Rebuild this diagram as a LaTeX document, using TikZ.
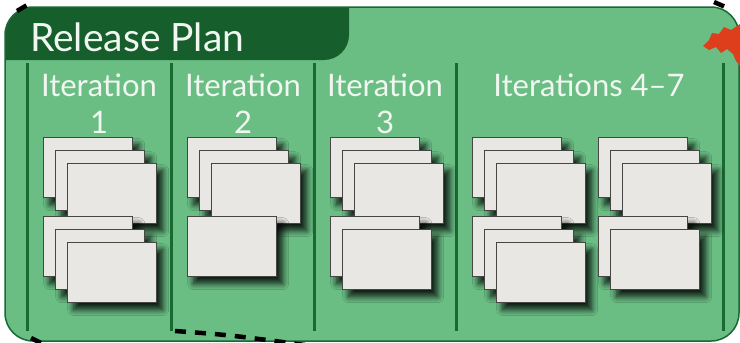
\documentclass[tikz,border=0pt]{standalone}
\usepackage{fontspec}
\setmainfont{Lato}
\usetikzlibrary{shadows.blur}

\definecolor{panelgreen}{RGB}{106,190,132}
\definecolor{headgreen}{RGB}{22,95,45}
\definecolor{linegreen}{RGB}{25,105,50}
\definecolor{cardgray}{RGB}{233,231,228}
\definecolor{cardedge}{RGB}{70,70,68}
\definecolor{labelwhite}{RGB}{240,247,240}
\definecolor{blobred}{RGB}{222,62,28}

\tikzset{
  card/.style={draw=cardedge, line width=1.3pt, fill=cardgray,
    anchor=north west, minimum width=89pt, minimum height=60pt, inner sep=0pt,
    blur shadow={shadow xshift=6pt, shadow yshift=-7pt,
      shadow blur radius=6pt, shadow blur steps=8, shadow opacity=85}},
  sepline/.style={draw=linegreen, line width=3pt},
  collabel/.style={text=labelwhite, align=center, inner sep=0pt,
    font=\fontsize{31}{37}\selectfont, anchor=north},
  sketch/.style={draw=black, line width=4.5pt, dash pattern=on 11pt off 9pt}
}

\begin{document}
\begin{tikzpicture}[x=1pt,y=-1pt] % pixel units, y downwards

\useasboundingbox (0,0) rectangle (740,343);
\clip (0,0) rectangle (740,343);

% panel and title tab
\def\panel{(5,7) rectangle (739,341)}
\fill[panelgreen, rounded corners=28pt] \panel;
\begin{scope}
  \clip[rounded corners=28pt] \panel;
  \fill[headgreen, rounded corners=25pt] (-40,-40) rectangle (349,60);
\end{scope}
\draw[linegreen, line width=1.5pt, rounded corners=28pt] \panel;
\node[text=labelwhite, font=\fontsize{39}{40}\selectfont, anchor=base west,
  inner sep=0pt] (title) at (30,51) {Release Plan};

% red smudge in the corner
\fill[blobred] (703,46) -- (709,40) -- (712,33) -- (719,34) -- (724,27)
  -- (731,30) -- (740,24) -- (740,66) -- (736,61) -- (733,54) -- (727,49)
  -- (721,53) -- (716,47) -- (709,50) -- cycle;

% column separators
\foreach \x in {27,171,314,456,723}
  \draw[sepline] (\x,63) -- (\x,331);

% column headings
\node[collabel] (it1) at (99,74) {Iteration\\1};
\node[collabel] (it2) at (243,74) {Iteration\\2};
\node[collabel] (it3) at (385,74) {Iteration\\3};
\node[collabel] (it47) at (589,74) {Iterations 4–7};

% card stacks: column/left edge/cards on top/cards below
\foreach \c/\x/\nup/\ndown in {1/43/3/3, 2/187/3/1, 3/330/3/2, 4/472/3/3, 5/598/3/2} {
  \foreach \i in {1,...,\nup}
    \node[card] (up\c\i) at ({\x+12*(\i-1)},{137+13*(\i-1)}) {};
  \foreach \i in {1,...,\ndown}
    \node[card] (down\c\i) at ({\x+12*(\i-1)},{216+13*(\i-1)}) {};
}

% dashed sketch marks round the panel
\draw[sketch] (17,11) -- (34,1);
\draw[sketch] (714,2) -- (730,9);
\draw[sketch] (31,338) -- (45,345);
\draw[sketch] (175,331) .. controls (230,335) .. (320,347);

\end{tikzpicture}
\end{document}
